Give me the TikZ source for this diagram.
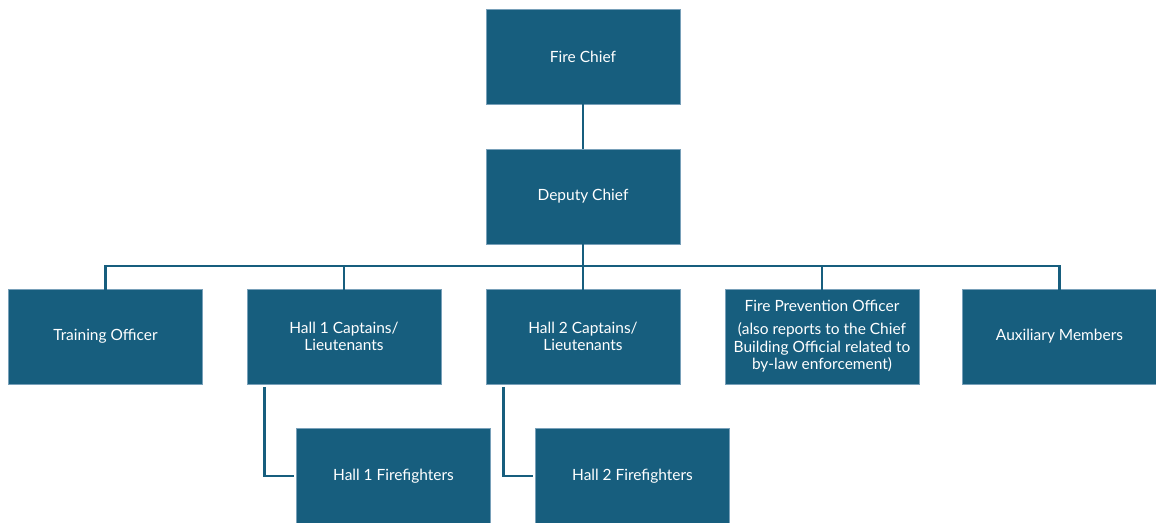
\documentclass[tikz,border=0pt]{standalone}
\usepackage{fontspec}
\setmainfont{Lato}
\definecolor{boxblue}{RGB}{23,94,126}
\definecolor{edgeblue}{RGB}{120,160,185}
\begin{document}
\begin{tikzpicture}[x=0.75pt,y=-0.75pt,
  orgbox/.style={fill=boxblue,draw=edgeblue,line width=0.4pt,minimum width=145.5pt,minimum height=71.25pt,inner sep=2pt,text=white,align=center,font=\fontsize{11.6}{13.2}\selectfont},
  conn/.style={draw=boxblue,line width=2.2pt}]
\useasboundingbox (0,0) rectangle (1156,523);
\node[orgbox] (chief) at (583,56.5) {Fire Chief};
\node[orgbox] (deputy) at (583,196.5) {Deputy Chief};
\node[orgbox] (train) at (105.5,336.5) {Training Officer};
\node[orgbox] (h1) at (344,336.5) {Hall 1 Captains/\\Lieutenants};
\node[orgbox] (h2) at (583,336.5) {Hall 2 Captains/\\Lieutenants};
\node[orgbox] (fpo) at (822,336.5) {Fire Prevention Officer\\[4pt](also reports to the Chief\\Building Official related to\\by-law enforcement)};
\node[orgbox] (aux) at (1059.5,336.5) {Auxiliary Members};
\node[orgbox] (h1ff) at (393.5,476) {Hall 1 Firefighters};
\node[orgbox] (h2ff) at (632.5,476) {Hall 2 Firefighters};
\draw[conn] (chief.south) -- (deputy.north);
\coordinate (bus) at (583,266);
\draw[conn] (deputy.south) -- (bus);
\draw[conn] ([yshift=-3pt]train.north) |- (bus) -| ([yshift=-3pt]aux.north);
\draw[conn] ([yshift=-3pt]h1.north) -- (h1.north |- bus);
\draw[conn] ([yshift=-3pt]h2.north) -- (h2.north |- bus);
\draw[conn] ([yshift=-3pt]fpo.north) -- (fpo.north |- bus);
\draw[conn] ([xshift=13.5pt,yshift=-2pt]h1.south west) |- ([xshift=-1.5pt]h1ff.west);
\draw[conn] ([xshift=13.5pt,yshift=-2pt]h2.south west) |- ([xshift=-1.5pt]h2ff.west);
\end{tikzpicture}
\end{document}
